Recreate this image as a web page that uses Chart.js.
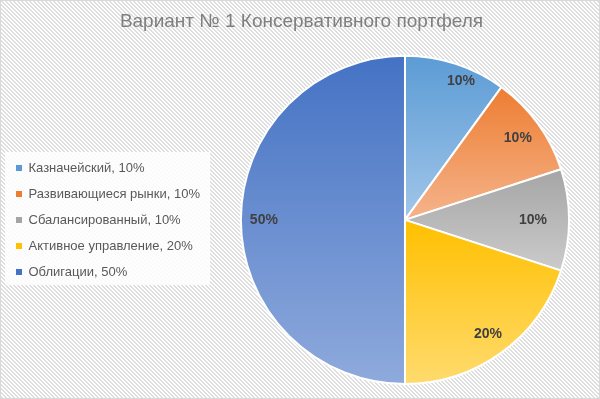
<!DOCTYPE html>
<html>
<head>
<meta charset="utf-8">
<script src="https://cdn.jsdelivr.net/npm/chart.js@4/dist/chart.umd.min.js"></script>
<style>
  html, body { margin: 0; padding: 0; background: #fff; }
  #wrap { width: 600px; height: 399px; position: relative; }
</style>
</head>
<body>
<div id="wrap"><canvas id="grafico"></canvas></div>
<script>
// Доли портфеля (по часовой стрелке от 12 часов)
const categorias = ['Казначейский', 'Развивающиеся рынки', 'Сбалансированный', 'Активное управление', 'Облигации'];
const doli = [10, 10, 10, 20, 50];
const titulo = 'Вариант № 1 Консервативного портфеля';

// цвет сверху / снизу каждого сектора (градиент как в Excel)
const coloresArriba = ['#5b9bd5', '#ed7d31', '#a5a5a5', '#ffc000', '#4472c4'];
const coloresAbajo = ['#a2c6e9', '#f5b48c', '#cbcbcb', '#ffdb6e', '#8faadc'];

const fuente = '"Liberation Sans", Arial, sans-serif';

function degradado(ctx) {
  const chart = ctx.chart;
  const area = chart.chartArea;
  const i = ctx.dataIndex;
  if (!area || i === undefined) return coloresArriba[i || 0];
  const cx = (area.left + area.right) / 2;
  const cy = (area.top + area.bottom) / 2;
  const r = Math.min(area.right - area.left, area.bottom - area.top) / 2;
  const total = doli.reduce((a, b) => a + b, 0);
  const previo = doli.slice(0, i).reduce((a, b) => a + b, 0);
  const ini = -Math.PI / 2 + 2 * Math.PI * previo / total;
  const fin = ini + 2 * Math.PI * doli[i] / total;
  const ys = [cy, cy + r * Math.sin(ini), cy + r * Math.sin(fin)];
  [-Math.PI / 2, Math.PI / 2, 3 * Math.PI / 2].forEach((a) => { if (a > ini && a < fin) ys.push(cy + r * Math.sin(a)); });
  const g = chart.ctx.createLinearGradient(0, Math.min(...ys), 0, Math.max(...ys));
  g.addColorStop(0, coloresArriba[i]);
  g.addColorStop(1, coloresAbajo[i]);
  return g;
}

// fondo rayado + marco
const fondo = {
  id: 'fondo',
  beforeDraw(chart) {
    const { ctx, width, height } = chart;
    const p = document.createElement('canvas');
    p.width = 4; p.height = 4;
    const pc = p.getContext('2d');
    pc.fillStyle = '#ffffff';
    pc.fillRect(0, 0, 4, 4);
    pc.fillStyle = '#dedede';
    for (let k = 0; k < 4; k++) { pc.fillRect(k, k, 1, 1); pc.fillRect((k + 1) % 4, k, 1, 1); }
    ctx.save();
    ctx.fillStyle = ctx.createPattern(p, 'repeat');
    ctx.fillRect(0, 0, width, height);
    ctx.strokeStyle = '#d9d9d9';
    ctx.lineWidth = 1;
    ctx.strokeRect(0.5, 0.5, width - 1, height - 1);
    // caja blanca de la leyenda
    ctx.fillStyle = 'rgba(255,255,255,0.85)';
    ctx.fillRect(5, 152, 205, 133);
    ctx.restore();
  },
};

// подписи долей: "best fit" как в Excel — немного разный отступ от центра
const etiquetas = {
  id: 'etiquetas',
  afterDatasetsDraw(chart) {
    const { ctx } = chart;
    const meta = chart.getDatasetMeta(0);
    const radio = [0.91, 0.85, 0.78, 0.86, 0.86];
    const giro = [0.07, 0, 0, 0, 0];
    ctx.save();
    ctx.font = 'bold 14px ' + fuente;
    ctx.fillStyle = '#404040';
    ctx.textAlign = 'center';
    ctx.textBaseline = 'middle';
    meta.data.forEach((arc, i) => {
      const medio = (arc.startAngle + arc.endAngle) / 2 + giro[i];
      const rr = arc.outerRadius * radio[i];
      ctx.fillText(doli[i] + '%', arc.x + Math.cos(medio) * rr, arc.y + Math.sin(medio) * rr);
    });
    ctx.restore();
  },
};

new Chart(document.getElementById('grafico'), {
  type: 'pie',
  data: {
    labels: categorias,
    datasets: [{
      data: doli,
      backgroundColor: degradado,
      borderColor: '#ffffff',
      borderWidth: 2,
    }],
  },
  options: {
    responsive: true,
    maintainAspectRatio: false,
    animation: false,
    layout: { padding: { left: 3, right: 0, top: 0, bottom: 14 } },
    plugins: {
      title: {
        display: true,
        text: titulo,
        color: '#7f7f7f',
        font: { family: fuente, size: 19, weight: 'normal' },
        padding: { top: 10, bottom: 22 },
      },
      legend: {
        position: 'left',
        align: 'start',
        title: { display: true, text: ' ', font: { size: 10, lineHeight: 1 }, padding: { top: 138.5, bottom: 0 } },
        labels: {
          color: '#595959',
          font: { family: fuente, size: 13 },
          boxWidth: 6,
          boxHeight: 6,
          padding: 13,
          generateLabels: () => categorias.map((c, i) => ({
            text: c + ', ' + doli[i] + '%',
            fillStyle: coloresArriba[i],
            strokeStyle: coloresArriba[i],
            lineWidth: 0,
            fontColor: '#595959',
            index: i,
          })),
        },
      },
      tooltip: { enabled: false },
    },
  },
  plugins: [fondo, etiquetas],
});
</script>
</body>
</html>
